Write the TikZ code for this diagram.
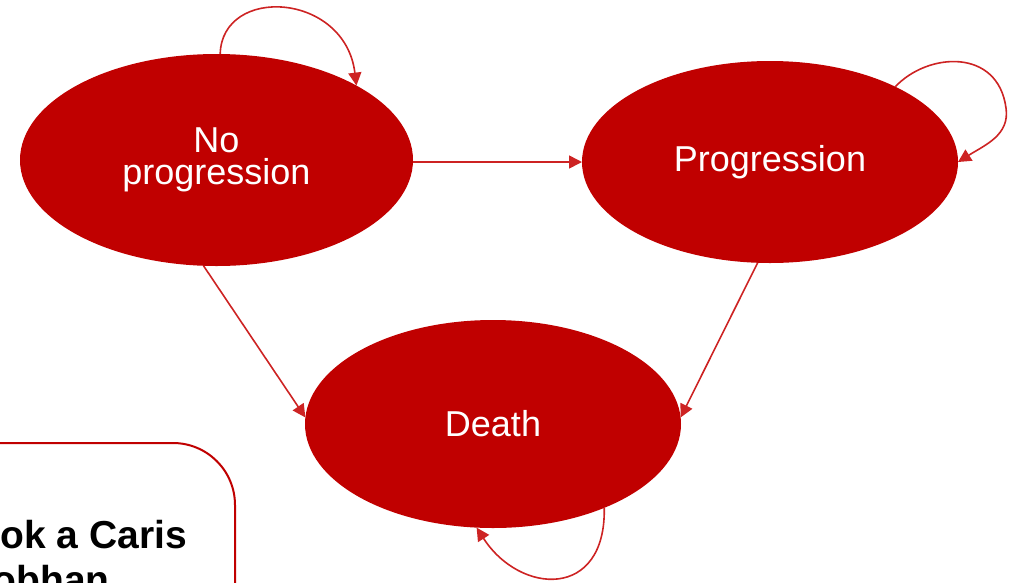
\documentclass[tikz,border=0pt]{standalone}
\usepackage{fontspec}
\setmainfont{Liberation Sans}
\usetikzlibrary{shapes.geometric,arrows.meta}
\definecolor{statered}{RGB}{192,0,0}
\definecolor{linkred}{RGB}{205,35,35}
\begin{document}
\begin{tikzpicture}[x=1pt,y=-1pt,
  state/.style={ellipse, fill=statered, draw=none, inner sep=0pt, outer sep=0pt, text=white,
    font=\fontsize{36}{34}\selectfont, align=center},
  link/.style={draw=linkred, line width=1.6pt, -{Triangle[length=13pt,width=13pt]}},
  notebox/.style={draw=statered, line width=2pt, rounded corners=62pt},
  note/.style={font=\bfseries\fontsize{39}{45}\selectfont, text=black, inner sep=0pt}]
\useasboundingbox (0,0) rectangle (1020,582);
\clip (0,0) rectangle (1020,582);

% states
\node[state, minimum width=393pt, minimum height=212pt] (n) at (216.5,160) {No\\[-2pt]progression};
\node[state, minimum width=376pt, minimum height=202pt] (p) at (770,162) {\raisebox{-3pt}{Progression}};
\node[state, minimum width=376pt, minimum height=208pt] (d) at (493,424) {\raisebox{-2pt}{Death}};

% transitions
\draw[link] (n.east |- p.west) -- (p.west);
\draw[link] (n.263) -- (d.178);
\draw[link] (p.263) -- (d.2);

% self loops
\draw[link] (n.88) .. controls (222,-15) and (345,-8) .. (n.28);
\draw[link] (p.31) .. controls (928,52) and (998,48) .. (1006,108)
  .. controls (1010,135) and (985,145) .. (p.east);
\draw[link] (d.323) .. controls (606,600) and (520,595) .. (d.261);

% note box (partly outside the picture)
\draw[notebox] (-60,443) rectangle (235,680);
\node[note, anchor=base east] (l1) at (187,548) {ok a Caris};
\node[note, anchor=base east] (l2) at (110,593) {obhan};
\end{tikzpicture}
\end{document}
